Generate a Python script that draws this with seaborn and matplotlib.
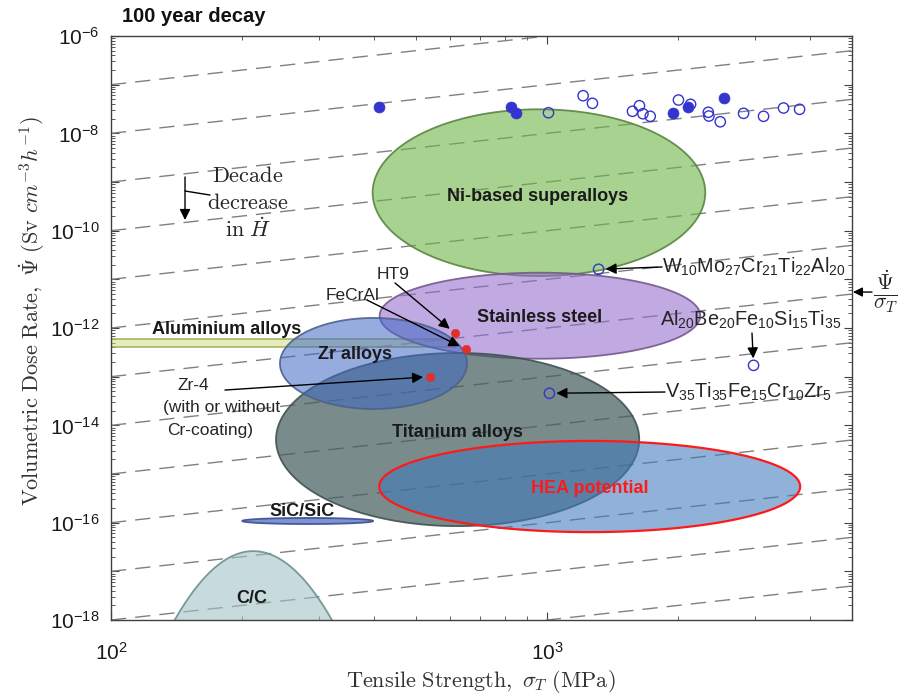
import numpy as np
import matplotlib
matplotlib.use("Agg")
import matplotlib.pyplot as plt
from matplotlib.ticker import LogLocator, FuncFormatter, NullFormatter
import seaborn as sns

# ---------------- data ----------------
# measured alloys (tensile strength MPa, volumetric dose rate Sv cm^-3 h^-1)
hea_filled_strength = [412, 827, 849, 1942, 2102, 2547]
hea_filled_dose = [3.43e-8, 3.43e-8, 2.58e-8, 2.65e-8, 3.43e-8, 5.32e-8]

hea_open_strength = [1007, 1209, 1270, 1569, 1628, 1658, 1723, 2000, 2132,
                     2341, 2349, 2494, 2820, 3134, 3483, 3791]
hea_open_dose = [2.65e-8, 5.93e-8, 4.14e-8, 2.84e-8, 3.70e-8, 2.53e-8, 2.24e-8,
                 4.84e-8, 3.95e-8, 2.71e-8, 2.27e-8, 1.73e-8, 2.58e-8, 2.24e-8,
                 3.32e-8, 3.12e-8]

# low-activation HEA candidates (open markers with labels)
candidate_names = [r"$\mathrm{W_{10}Mo_{27}Cr_{21}Ti_{22}Al_{20}}$",
                   r"$\mathrm{Al_{20}Be_{20}Fe_{10}Si_{15}Ti_{35}}$",
                   r"$\mathrm{V_{35}Ti_{35}Fe_{15}Cr_{10}Zr_{5}}$"]
candidate_strength = [1312, 2973, 1012]
candidate_dose = [1.61e-11, 1.71e-13, 4.56e-14]

# reference nuclear materials (red markers)
reference_names = ["HT9", "FeCrAl", "Zr-4"]
reference_strength = [615, 651, 539]
reference_dose = [7.8e-13, 3.66e-13, 1.0e-13]

# material property regions: strength range (MPa) and dose-rate range
region_names = ["Ni-based superalloys", "Stainless steel", "Zr alloys",
                "Titanium alloys", "HEA potential", "SiC/SiC"]
region_strength_min = [398, 413, 244, 239, 412, 200]
region_strength_max = [2304, 2244, 655, 1626, 3802, 399]
region_dose_min = [1.17e-11, 2.34e-13, 2.17e-14, 8.5e-17, 6.4e-17, 9.4e-17]
region_dose_max = [3.12e-8, 1.37e-11, 1.61e-12, 3.07e-13, 4.78e-15, 1.25e-16]

# aluminium alloys band
al_strength = [50, 615]
al_dose = [4.07e-13, 5.94e-13]

# C/C dome: base strengths at the axis floor and the peak
cc_strength = [140, 210, 321]
cc_dose = [1e-18, 2.6e-17, 1e-18]

# constant dose-rate-per-strength guide lines (one per decade)
guide_ratios = [10.0 ** k for k in range(-21, -8)]

x_limits = (100, 5000)
y_limits = (1e-18, 1e-6)

# ---------------- style ----------------
sns.set_theme(style="ticks")
plt.rcParams["font.family"] = ["Liberation Sans", "DejaVu Sans"]
plt.rcParams["mathtext.fontset"] = "custom"
plt.rcParams["mathtext.rm"] = "Liberation Sans"
plt.rcParams["mathtext.it"] = "Liberation Sans:italic"
plt.rcParams["mathtext.bf"] = "Liberation Sans:bold"
plt.rcParams["mathtext.sf"] = "Liberation Sans"
plt.rcParams["axes.linewidth"] = 1.0

fig = plt.figure(figsize=(8.98, 6.94), dpi=100)
ax = fig.add_axes([0.1236, 0.1066, 0.8252, 0.8415])
ax.set_xscale("log")
ax.set_yscale("log")
ax.set_xlim(*x_limits)
ax.set_ylim(*y_limits)

# guide lines
xs = np.array(x_limits, dtype=float)
for r in guide_ratios:
    ax.plot(xs, r * xs, color="#808080", lw=1.0, dashes=(11, 6.5), zorder=1)


def ellipse_outline(xmin, xmax, ymin, ymax, n=300):
    lx0, lx1 = np.log10(xmin), np.log10(xmax)
    ly0, ly1 = np.log10(ymin), np.log10(ymax)
    cx, cy = (lx0 + lx1) / 2, (ly0 + ly1) / 2
    rx, ry = (lx1 - lx0) / 2, (ly1 - ly0) / 2
    t = np.linspace(0, 2 * np.pi, n)
    return 10 ** (cx + rx * np.cos(t)), 10 ** (cy + ry * np.sin(t))


region_style = {
    "Ni-based superalloys": dict(fc=(0.43, 0.71, 0.27, 0.6), ec=(0.35, 0.52, 0.25, 0.9)),
    "Stainless steel": dict(fc=(0.58, 0.42, 0.80, 0.58), ec=(0.45, 0.35, 0.55, 0.9)),
    "Zr alloys": dict(fc=(0.25, 0.41, 0.77, 0.55), ec=(0.30, 0.38, 0.55, 0.9)),
    "Titanium alloys": dict(fc=(0.27, 0.37, 0.37, 0.72), ec=(0.25, 0.32, 0.32, 0.9)),
    "HEA potential": dict(fc=(0.25, 0.48, 0.74, 0.58), ec=(1.0, 0.1, 0.1, 1.0)),
    "SiC/SiC": dict(fc=(0.40, 0.50, 0.80, 0.85), ec=(0.28, 0.35, 0.60, 1.0)),
}
region_z = {"Ni-based superalloys": 2, "Stainless steel": 2.1, "Zr alloys": 2.3,
            "Titanium alloys": 2.2, "HEA potential": 2.4, "SiC/SiC": 2.2}

for name, x0, x1, y0, y1 in zip(region_names, region_strength_min, region_strength_max,
                                region_dose_min, region_dose_max):
    ex, ey = ellipse_outline(x0, x1, y0, y1)
    st = region_style[name]
    lw = 1.6 if name == "HEA potential" else 1.3
    ax.fill(ex, ey, facecolor=st["fc"], edgecolor=st["ec"], lw=lw, zorder=region_z[name])

# aluminium alloys band
ax.fill([al_strength[0], al_strength[1], al_strength[1], al_strength[0]],
        [al_dose[0], al_dose[0], al_dose[1], al_dose[1]],
        facecolor=(0.82, 0.86, 0.50, 0.55), edgecolor=(0.62, 0.68, 0.35, 0.9),
        lw=1.2, zorder=2.05)

# C/C dome (quadratic in log-log space through base and peak)
lcx, lcy = np.log10(cc_strength), np.log10(cc_dose)
coef = np.polyfit(lcx, lcy, 2)
dome_lx = np.linspace(lcx[0] - 0.02, lcx[-1] + 0.02, 200)
dome_ly = np.polyval(coef, dome_lx)
ax.fill(10 ** dome_lx, 10 ** dome_ly, facecolor=(0.64, 0.77, 0.78, 0.6),
        edgecolor=(0.45, 0.58, 0.58, 0.95), lw=1.3, zorder=2)

# region labels
bold = dict(fontsize=13, fontweight="bold", ha="center", va="center", zorder=6,
            transform=ax.transAxes)
ax.text(0.5763, 0.7260, "Ni-based superalloys", color="#1a1a1a", **bold)
ax.text(0.5783, 0.5188, "Stainless steel", color="#1a1a1a", **bold)
ax.text(0.6464, 0.2260, "HEA potential", color="#ff1a1a", **bold)
ax.text(0.3293, 0.4538, "Zr alloys", color="#1a1a1a", **bold)
ax.text(0.4669, 0.3219, "Titanium alloys", color="#1a1a1a", **bold)
ax.text(0.2578, 0.1866, "SiC/SiC", color="#1a1a1a", **bold)
ax.text(0.1903, 0.0377, "C/C", color="#1a1a1a", **bold)
ax.text(0.1565, 0.4983, "Aluminium alloys", color="#1a1a1a", **bold)

# measured points
blue = "#3434cf"
sns.scatterplot(x=hea_filled_strength, y=hea_filled_dose, ax=ax, color=blue, s=62,
                edgecolor=blue, linewidth=0.5, zorder=7)
sns.scatterplot(x=hea_open_strength + candidate_strength, y=hea_open_dose + candidate_dose,
                ax=ax, facecolors="none", edgecolor=blue, s=55, linewidth=1.0, zorder=7)
sns.scatterplot(x=reference_strength, y=reference_dose, ax=ax, color="#e0302a", s=38,
                edgecolor="#e0302a", linewidth=0.3, zorder=8)

arrow = dict(arrowstyle="-|>", color="black", lw=1.0, mutation_scale=16, shrinkA=0, shrinkB=5)

# red reference annotations
ax.text(0.3806, 0.5908, "HT9", transform=ax.transAxes, fontsize=12.5, ha="center", va="center")
ax.annotate("", xy=(reference_strength[0], reference_dose[0]), xytext=(0.3833, 0.5771),
            textcoords="axes fraction", arrowprops=arrow, zorder=9)
ax.text(0.3266, 0.5565, "FeCrAl", transform=ax.transAxes, fontsize=12.5, ha="center", va="center")
ax.annotate("", xy=(reference_strength[1], reference_dose[1]), xytext=(0.3455, 0.5479),
            textcoords="axes fraction", arrowprops=arrow, zorder=9)
ax.text(0.0891, 0.4024, "Zr-4", transform=ax.transAxes, fontsize=12.5, ha="left", va="center")
ax.text(0.0702, 0.3647, "(with or without", transform=ax.transAxes, fontsize=12.5,
        ha="left", va="center")
ax.text(0.0756, 0.3253, "Cr-coating)", transform=ax.transAxes, fontsize=12.5,
        ha="left", va="center")
ax.annotate("", xy=(reference_strength[2], reference_dose[2]), xytext=(0.1538, 0.3938),
            textcoords="axes fraction", arrowprops=arrow, zorder=9)

# candidate annotations
cand_text_pos = [(0.7436, 0.6045), (0.7409, 0.5137), (0.7476, 0.3904)]
cand_arrow_start = [(0.7436, 0.6045), (0.865, 0.4914), (0.7476, 0.3904)]
for name, sx, sy, tpos, apos in zip(candidate_names, candidate_strength, candidate_dose,
                                    cand_text_pos, cand_arrow_start):
    ax.text(*tpos, name, transform=ax.transAxes, fontsize=14.3, ha="left", va="center", zorder=9)
    ax.annotate("", xy=(sx, sy), xytext=apos, textcoords="axes fraction",
                arrowprops=arrow, zorder=9)

# decade decrease note
for txt, fy in zip([r"$\mathrm{Decade}$", r"$\mathrm{decrease}$", r"$\mathrm{in}\ \dot{H}$"],
                   [0.7586, 0.714, 0.6678]):
    ax.text(0.1849, fy, txt, transform=ax.transAxes, fontsize=16, ha="center", va="center",
            math_fontfamily="cm")
ax.annotate("", xy=(0.0999, 0.6849), xytext=(0.0999, 0.7586), xycoords="axes fraction",
            textcoords="axes fraction",
            arrowprops=dict(arrowstyle="-|>", color="black", lw=1.0, mutation_scale=16,
                            shrinkA=0, shrinkB=0))
ax.plot([0.0999, 0.1336], [0.7346, 0.7277], transform=ax.transAxes, color="black", lw=1.0)

# ratio marker outside the right axis
ax.annotate("", xy=(1.0013, 0.5616), xytext=(1.0270, 0.5616), xycoords="axes fraction",
            textcoords="axes fraction", annotation_clip=False,
            arrowprops=dict(arrowstyle="-|>", color="black", lw=1.0, mutation_scale=14,
                            shrinkA=0, shrinkB=0))
ax.text(1.0285, 0.5616, r"$\frac{\dot{\Psi}}{\sigma_T}$", transform=ax.transAxes, fontsize=22,
        ha="left", va="center", math_fontfamily="cm", clip_on=False)

# axes, ticks and labels
ax.xaxis.set_major_locator(LogLocator(base=10, numticks=20))
ax.xaxis.set_minor_locator(LogLocator(base=10, subs=np.arange(2, 10), numticks=100))
ax.yaxis.set_major_locator(LogLocator(base=10, subs=(1.0,), numticks=30))
ax.yaxis.set_minor_locator(LogLocator(base=10, subs=np.arange(2, 10), numticks=200))


def fmt_x(v, pos):
    return r"$10^{%d}$" % int(round(np.log10(v)))


def fmt_y(v, pos):
    e = int(round(np.log10(v)))
    return r"$10^{%d}$" % e if e % 2 == 0 else ""


ax.xaxis.set_major_formatter(FuncFormatter(fmt_x))
ax.yaxis.set_major_formatter(FuncFormatter(fmt_y))
ax.xaxis.set_minor_formatter(NullFormatter())
ax.yaxis.set_minor_formatter(NullFormatter())
ax.tick_params(which="both", direction="in", top=True, right=True, colors="#404040",
               labelcolor="#1a1a1a", labelsize=15)
ax.tick_params(which="major", length=6, width=0.8)
ax.tick_params(which="minor", length=3, width=0.6)
ax.tick_params(axis="x", pad=16)
ax.tick_params(axis="y", pad=8)
for sp in ax.spines.values():
    sp.set_color("#404040")
    sp.set_visible(True)

ax.set_xlabel(r"$\mathrm{Tensile\ Strength,}\ \sigma_T\ \mathrm{(MPa)}$", fontsize=16,
              math_fontfamily="cm", color="#333333")
ax.set_ylabel(r"$\mathrm{Volumetric\ Dose\ Rate,}\ \dot{\Psi}\ \mathrm{(Sv}\ cm^{-3}h^{-1}\mathrm{)}$",
              fontsize=16, math_fontfamily="cm", color="#333333")
ax.xaxis.set_label_coords(0.4993, -0.083)
ax.yaxis.set_label_coords(-0.086, 0.529)

fig.text(122 / 898, 1 - 17 / 694, "100 year decay", fontsize=14.5, fontweight="bold",
         ha="left", va="center", color="#111111")

fig.savefig("out.png", dpi=100)
